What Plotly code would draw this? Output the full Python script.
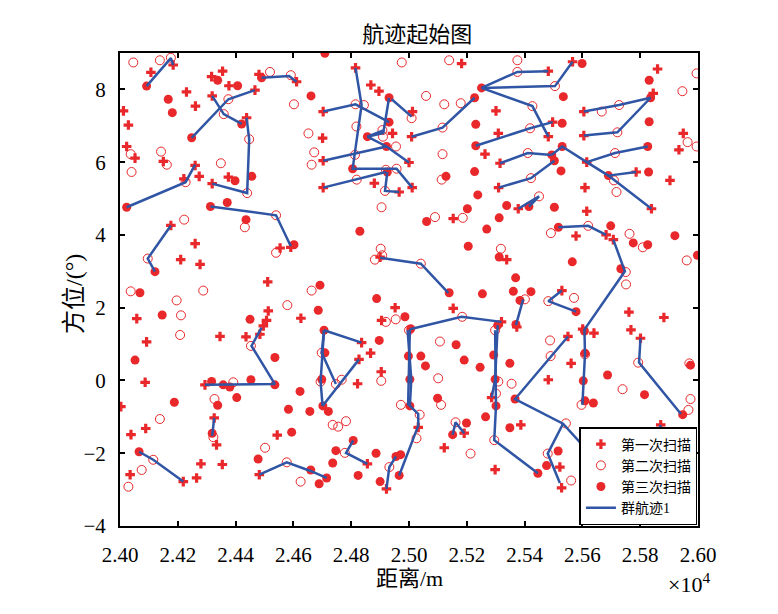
import plotly.graph_objects as go

# first scan (plus markers)
scan1 = [
    (24184, 8.67), (24107, 8.47), (24355, 8.50), (24317, 8.35), (24377, 8.10), (24481, 8.41),
    (24611, 8.21), (24230, 7.93), (24319, 7.82), (24467, 7.98), (24261, 7.54), (24012, 7.41),
    (24029, 7.02), (24438, 7.22), (24023, 6.43), (24052, 6.11), (24150, 6.02), (24260, 5.91),
    (24815, 8.59), (25182, 8.71), (24868, 8.12), (24896, 7.95), (24703, 7.39), (25012, 7.39),
    (24943, 6.79), (24701, 6.66), (25009, 6.70), (25301, 7.41), (25263, 6.22), (25309, 6.79),
    (25315, 5.97), (24703, 6.04), (25000, 5.99),
    (25482, 8.50), (25566, 8.76), (25860, 8.56), (25845, 7.89), (25605, 7.39), (25497, 7.10),
    (25482, 6.70), (25605, 6.73), (25949, 6.79), (25934, 6.34), (25615, 6.00),
    (24274, 5.61), (24221, 5.54), (24319, 5.41), (24375, 5.59), (24176, 4.26), (24260, 3.76),
    (24210, 3.32), (24277, 3.19), (24554, 3.64), (24591, 3.66), (24511, 2.71),
    (24703, 5.30), (24880, 5.42), (24966, 5.18), (25011, 5.30), (25153, 4.45), (24900, 3.39),
    (25310, 5.30), (25338, 3.32),
    (25378, 4.72), (25609, 5.30), (25615, 4.65), (25839, 4.72), (25903, 5.50), (25578, 3.97),
    (25682, 4.00), (25707, 3.87), (25786, 5.73),
    (24058, 1.70), (24092, 1.06), (24087, -0.05), (24513, 1.91), (24507, 1.65), (24496, 1.50),
    (24484, 1.27), (24436, 1.20), (24346, 1.21), (24626, 1.71), (24294, -0.12), (24003, -0.72),
    (24952, 2.00), (24905, 1.65), (25153, 1.98), (25320, 1.61), (24836, 1.04), (24867, 0.75),
    (24827, 0.58), (24904, 0.24), (24822, -0.09), (25286, -0.47),
    (25529, 2.47), (25761, 1.88), (25882, 1.73), (25768, 1.39), (25801, 1.16), (25550, 1.21),
    (25640, 1.30), (25601, 1.41), (25561, 0.47), (25482, 0.02), (25373, 1.47),
    (24038, -1.49), (24089, -1.32), (24326, -1.03), (24334, -1.77), (24280, -2.29), (24354, -2.31),
    (24035, -2.59), (24219, -2.78), (24265, -2.68), (24482, -2.59), (24544, -1.50),
    (25032, -1.29), (25191, -1.45), (25122, -1.85), (24856, -2.29), (24922, -2.98), (25298, -2.45),
    (25387, -1.22), (25522, -2.38), (25528, -2.95), (25871, -1.22),
]

# second scan (open circles)
scan2 = [
    (24046, 8.74), (24138, 8.80), (24176, 8.87), (24519, 8.48), (24591, 8.39), (24375, 7.73),
    (24359, 7.32), (24602, 7.59), (24447, 6.63), (24652, 6.79), (24037, 6.22), (24142, 6.29),
    (24162, 5.93), (24349, 5.97), (24663, 5.93), (24672, 6.27),
    (24975, 8.74), (25139, 8.80), (25059, 7.82), (25122, 7.59), (25179, 7.62), (24815, 7.59),
    (24844, 7.57), (24818, 6.98), (25009, 7.21), (24908, 6.88), (24910, 6.70), (24955, 6.43),
    (25116, 6.95), (25116, 6.22), (24813, 6.20),
    (25375, 8.80), (25375, 8.48), (25505, 8.09), (25995, 8.44), (25946, 7.95), (25427, 7.54),
    (25667, 7.39), (25727, 7.57), (25419, 6.93), (25721, 6.82), (25964, 6.55), (25995, 6.43),
    (25411, 6.25), (25713, 6.25),
    (24040, 5.73), (24227, 5.45), (24440, 5.15), (24222, 4.42), (24432, 4.21), (24540, 4.54),
    (24540, 3.51), (24096, 3.35),
    (24819, 5.52), (24920, 5.79), (24957, 5.82), (24917, 5.21), (25113, 5.52), (24905, 4.76),
    (25090, 4.49), (25186, 4.47), (24902, 3.62), (24882, 3.32), (24907, 3.44), (25041, 3.21),
    (25318, 3.62),
    (25422, 5.56), (25450, 5.06), (25709, 5.50), (25718, 5.18), (25620, 4.25), (25491, 4.05),
    (25763, 4.03), (25809, 3.66), (25750, 2.98), (25751, 2.64), (25961, 3.30),
    (24037, 2.45), (24196, 2.20), (24211, 1.79), (24208, 1.25), (24288, 2.47), (24579, 2.07),
    (24663, 2.47), (24453, 0.95), (24392, -0.05), (24327, -0.51),
    (24920, 1.61), (24954, 1.68), (25184, 1.75), (25107, 1.07), (25000, 1.38), (25298, 1.38),
    (24698, 0.76), (24694, -0.03), (24747, -0.10), (24767, 0.02), (24904, -0.01), (25101, 0.06),
    (25309, -0.03), (25301, -0.36), (25111, -0.67), (24972, -0.67),
    (25401, 2.23), (25482, 2.18), (25571, 2.27), (25488, 1.10), (25490, 0.67), (25609, 0.72),
    (25793, 0.49), (25970, 0.47), (25355, -0.09), (25739, -0.24), (25974, -0.51), (25597, -0.67),
    (24138, -1.06), (24323, -1.56), (24115, -2.18), (24075, -2.46), (24029, -2.92), (24502, -1.85),
    (24577, -2.25), (24625, -2.78),
    (24736, -1.22), (24755, -1.27), (24782, -1.12), (24778, -1.99), (24932, -2.38), (25026, -1.59),
    (25037, -0.94), (25161, -1.15), (25213, -2.01), (25295, -1.64),
    (25543, -1.18), (25480, -2.01), (25561, -2.75), (25967, -0.81), (25978, -1.73),
]

# third scan (filled dots)
scan3 = [
    (24092, 8.09), (24338, 8.25), (24407, 8.10), (24490, 8.32), (24167, 7.73), (24181, 7.36),
    (24661, 7.82), (24421, 7.05), (24248, 6.67),
    (24709, 8.99), (25251, 8.04), (25227, 7.77), (24931, 7.77), (24931, 7.10), (25231, 7.04),
    (24856, 6.70), (24922, 6.43), (25231, 6.45),
    (25599, 8.71), (25831, 8.25), (25534, 7.80), (25836, 7.77), (25530, 7.07), (25831, 7.11),
    (25826, 6.43), (25530, 6.43), (25494, 6.20), (25503, 6.04),
    (24398, 5.49), (24456, 5.61), (24023, 4.76), (24313, 4.78), (24371, 4.89), (24436, 4.42),
    (24602, 3.73), (24121, 2.99),
    (24805, 5.82), (24925, 5.73), (25128, 5.61), (25227, 5.74), (25238, 5.10), (25202, 4.72),
    (25338, 4.81), (25312, 4.47), (25061, 4.37), (24830, 4.10), (25269, 4.16), (25205, 3.69),
    (25312, 3.39), (24692, 2.62),
    (25526, 5.76), (25690, 5.63), (25829, 5.73), (25415, 4.78), (25503, 4.76), (25517, 4.21),
    (25698, 4.25), (25776, 3.78), (25826, 3.73), (25920, 3.98), (25998, 3.44), (25565, 3.26),
    (25733, 3.07), (25369, 2.82),
    (24069, 2.41), (24146, 1.80), (24052, 0.56), (24450, 1.68), (24536, 0.63), (24317, -0.03),
    (24357, -0.12), (24380, -0.18), (24453, 0.02), (24536, -0.12), (24404, -0.47), (24188, -0.60),
    (24338, -0.68), (24623, -0.30),
    (24888, 2.25), (24686, 1.93), (24986, 1.75), (25139, 2.41), (25254, 2.38), (24706, 1.38),
    (25006, 1.42), (24897, 1.10), (25163, 0.98), (25307, 1.52), (24709, 0.76), (24998, 0.67),
    (25041, 0.67), (25057, 0.40), (25191, 0.56), (25246, 0.36), (25293, 0.70), (24698, 0.03),
    (25003, 0.03), (25298, 0.03), (25099, -0.49), (24702, -0.70), (25003, -0.70), (25301, -0.70),
    (25361, 2.45), (25422, 2.44), (25384, 2.20), (25578, 1.89), (25370, 1.54), (25607, 1.36),
    (25609, 0.75), (25349, 0.47), (25687, 0.15), (25603, -0.01), (25815, -0.39), (25367, -0.51),
    (25609, -0.56), (25638, -0.62), (25974, 0.42),
    (24583, -0.79), (24657, -0.85), (24594, -1.42), (24319, -1.45), (24066, -1.96), (24478, -2.16),
    (24660, -2.46),
    (24721, -0.85), (24807, -1.65), (24747, -1.93), (24886, -2.00), (24736, -2.27), (24824, -2.61),
    (24715, -2.68), (24689, -2.84), (24900, -2.78), (24966, -2.61), (24955, -2.09), (24971, -2.04),
    (25151, -1.49), (25199, -1.17), (25265, -1.00),
    (25349, -1.30), (25745, -1.49), (25929, -1.53), (25947, -0.94), (25516, -1.94), (25476, -2.34),
    (25446, -2.55), (25876, -1.82),
]

# group tracks (polylines)
tracks = [
    [(24092, 8.09), (24176, 8.86), (24184, 8.67)],
    [(24490, 8.32), (24585, 8.37), (24611, 8.21)],
    [(24248, 6.67), (24375, 7.73), (24467, 7.98)],
    [(24319, 7.82), (24359, 7.32), (24421, 7.05)],
    [(24438, 7.22), (24447, 6.63), (24440, 5.15), (24319, 5.41)],
    [(24815, 8.59), (24836, 7.57), (24805, 5.82), (24957, 5.82), (25011, 5.30)],
    [(24703, 7.39), (24815, 7.59), (24931, 7.10)],
    [(24931, 7.77), (24911, 6.80), (24856, 6.70), (24911, 6.87)],
    [(24856, 6.70), (24922, 6.43), (25000, 5.99)],
    [(24940, 7.73), (25009, 7.25)],
    [(25009, 6.70), (25116, 6.95), (25227, 7.77)],
    [(24703, 6.04), (24922, 6.43)],
    [(25251, 8.04), (25375, 8.48), (25482, 8.50)],
    [(25251, 8.04), (25505, 8.09), (25566, 8.76)],
    [(25251, 8.04), (25427, 7.54), (25482, 6.70)],
    [(25605, 7.39), (25727, 7.57), (25836, 7.77)],
    [(25605, 6.73), (25721, 6.82), (25836, 7.77)],
    [(25231, 6.45), (25419, 6.93), (25497, 7.10)],
    [(25315, 5.97), (25411, 6.25), (25494, 6.20)],
    [(25310, 5.30), (25422, 5.56), (25503, 6.04)],
    [(25494, 6.20), (25530, 6.43), (25615, 6.00), (25690, 5.63), (25839, 4.72)],
    [(25690, 5.63), (25786, 5.73)],
    [(25615, 6.00), (25713, 6.25), (25826, 6.43)],
    [(25378, 4.72), (25450, 5.06), (25415, 4.78)],
    [(25517, 4.21), (25620, 4.25), (25682, 4.00)],
    [(25707, 3.87), (25747, 3.00), (25607, 1.40), (25609, 0.72), (25600, -0.67)],
    [(24023, 4.76), (24227, 5.45), (24260, 5.93)],
    [(24313, 4.78), (24540, 4.54), (24591, 3.69)],
    [(24176, 4.26), (24096, 3.35), (24121, 2.99)],
    [(24703, 5.30), (24819, 5.52), (24920, 5.73)],
    [(24925, 5.73), (24917, 5.21), (24966, 5.18)],
    [(24900, 3.37), (25041, 3.21), (25136, 2.41)],
    [(24490, 1.45), (24455, 0.95), (24536, -0.10), (24294, -0.12)],
    [(24706, 1.38), (24836, 1.04)],
    [(24706, 1.38), (24694, -0.03), (24701, -0.70)],
    [(24701, -0.70), (24827, 0.58)],
    [(24706, 1.38), (24698, 0.76), (24747, -0.10)],
    [(25003, 1.41), (25182, 1.75), (25320, 1.61)],
    [(25003, 1.41), (24997, -0.65), (25032, -0.92), (25032, -1.24), (24966, -2.61)],
    [(24995, 1.38), (25008, 0.03), (25003, -0.70)],
    [(25298, 1.38), (25301, -0.36), (25301, -0.70), (25295, -1.64), (25446, -2.55)],
    [(25307, 1.52), (25298, 0.03), (25286, -0.47)],
    [(25395, 2.23), (25370, 1.52)],
    [(25529, 2.47), (25482, 2.18), (25578, 1.89)],
    [(25550, 1.21), (25367, -0.51), (25533, -1.19), (25660, -2.3)],
    [(25533, -1.19), (25480, -2.01), (25522, -2.82)],
    [(25801, 1.16), (25796, 0.49), (25941, -0.92)],
    [(25851, -1.84), (25871, -1.22)],
    [(24326, -1.03), (24319, -1.52)],
    [(24066, -1.96), (24115, -2.18), (24219, -2.78)],
    [(24482, -2.59), (24577, -2.25), (24657, -2.48), (24715, -2.68)],
    [(24807, -1.65), (24782, -1.99), (24856, -2.29)],
    [(24922, -2.98), (24932, -2.38), (24955, -2.09)],
    [(25151, -1.49), (25161, -1.15), (25191, -1.45)],
]

x_ticks = [24000, 24200, 24400, 24600, 24800, 25000, 25200, 25400, 25600, 25800, 26000]
x_tick_text = ["2.40", "2.42", "2.44", "2.46", "2.48", "2.50", "2.52", "2.54", "2.56", "2.58", "2.60"]
y_ticks = [-4, -2, 0, 2, 4, 6, 8]

red = "#E8282B"
blue = "#2F55A4"
font_family = "Liberation Serif, Times New Roman, Noto Sans CJK SC"

track_x, track_y = [], []
for t in tracks:
    for px, py in t:
        track_x.append(px)
        track_y.append(py)
    track_x.append(None)
    track_y.append(None)

fig = go.Figure()
fig.add_trace(go.Scatter(x=[p[0] for p in scan1], y=[p[1] for p in scan1], mode="markers",
                         name="第一次扫描",
                         marker=dict(symbol="cross", size=8, color=red, line=dict(width=0))))
fig.add_trace(go.Scatter(x=[p[0] for p in scan2], y=[p[1] for p in scan2], mode="markers",
                         name="第二次扫描",
                         marker=dict(symbol="circle-open", size=9, color=red, line=dict(width=1))))
fig.add_trace(go.Scatter(x=[p[0] for p in scan3], y=[p[1] for p in scan3], mode="markers",
                         name="第三次扫描",
                         marker=dict(symbol="circle", size=9, color=red, line=dict(width=0))))
fig.add_trace(go.Scatter(x=track_x, y=track_y, mode="lines", name="群航迹1",
                         line=dict(color=blue, width=2.5), connectgaps=False))

fig.update_layout(
    width=778, height=614,
    margin=dict(l=112, r=88, t=45, b=96),
    paper_bgcolor="white", plot_bgcolor="white",
    font=dict(family=font_family, size=21, color="black"),
    title=dict(text="航迹起始图", x=0.526, xanchor="center", y=0.957, yanchor="middle",
               yref="container", font=dict(size=22)),
    showlegend=True,
    legend=dict(x=0.999, y=0.002, xanchor="right", yanchor="bottom", bgcolor="white",
                bordercolor="black", borderwidth=1.5, font=dict(size=14),
                tracegroupgap=0, itemwidth=30),
)
fig.update_xaxes(range=[24000, 26000], tickvals=x_ticks, ticktext=x_tick_text,
                 showgrid=False, zeroline=False, showline=True, linecolor="black", linewidth=2,
                 mirror="ticks", ticks="inside", ticklen=5, tickwidth=2, tickcolor="black",
                 ticklabelstandoff=9)
fig.update_yaxes(range=[-4, 9], tickvals=y_ticks,
                 showgrid=False, zeroline=False, showline=True, linecolor="black", linewidth=2,
                 mirror="ticks", ticks="inside", ticklen=5, tickwidth=2, tickcolor="black",
                 ticklabelstandoff=8)

fig.add_annotation(text="距离/m", xref="paper", yref="paper", x=0.5, y=-0.112,
                   xanchor="center", yanchor="middle", showarrow=False, font=dict(size=22))
fig.add_annotation(text="方位/(°)", xref="paper", yref="paper", x=-0.08, y=0.49,
                   xanchor="center", yanchor="middle", textangle=-90, showarrow=False,
                   font=dict(size=24))
fig.add_annotation(text="×10<sup>4</sup>", xref="paper", yref="paper", x=0.985, y=-0.12,
                   xanchor="center", yanchor="middle", showarrow=False, font=dict(size=22))

fig.write_html("out.html")
